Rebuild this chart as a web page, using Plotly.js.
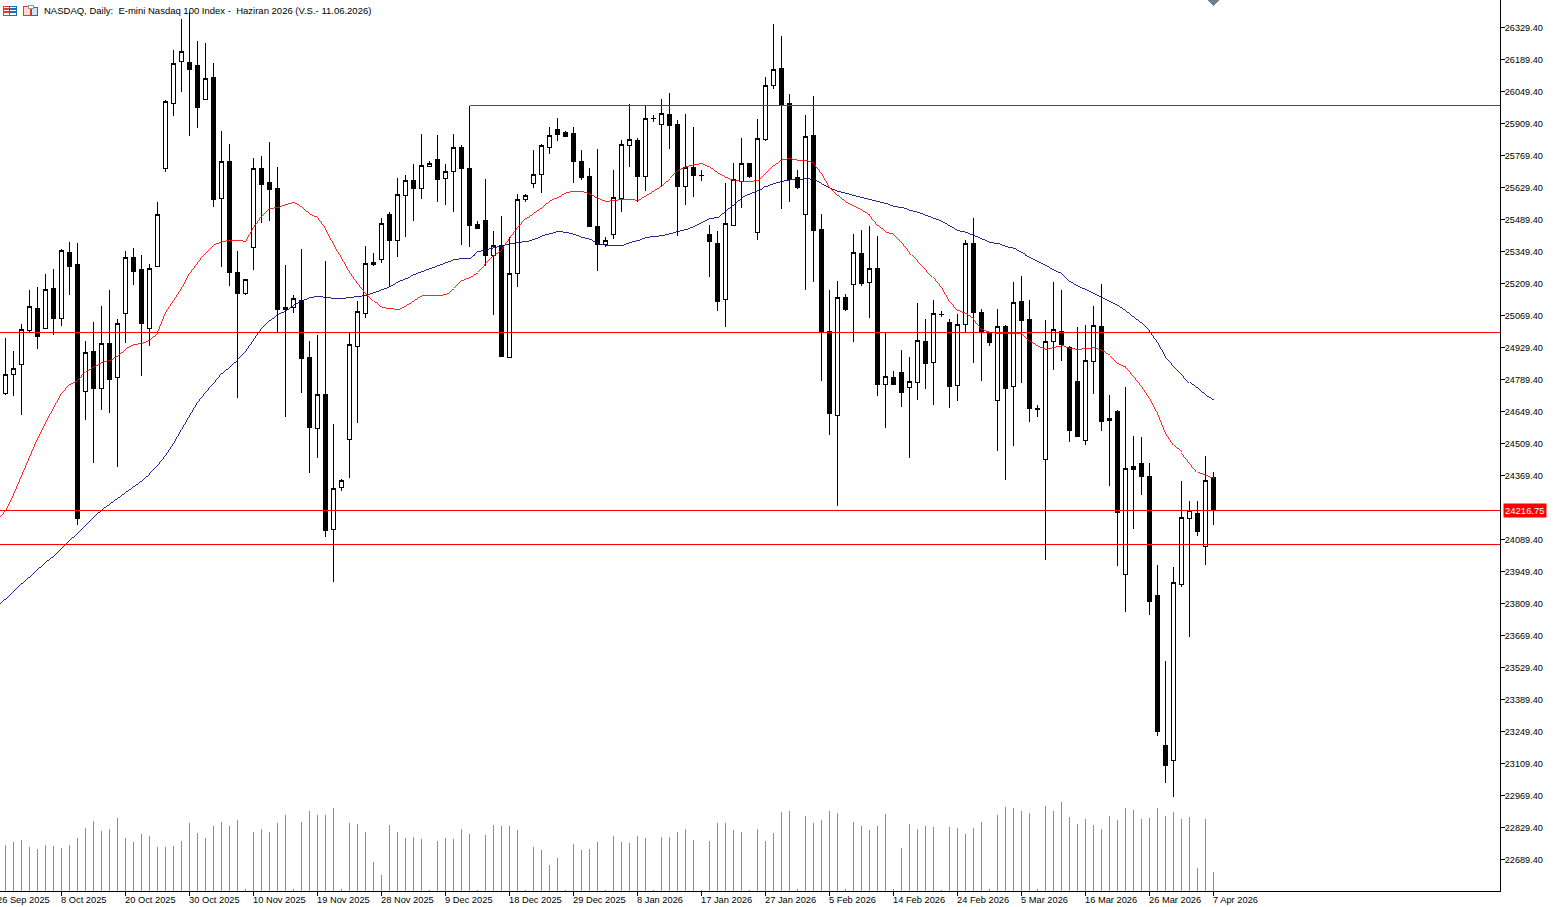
<!DOCTYPE html>
<html>
<head>
<meta charset="utf-8">
<script src="https://cdn.plot.ly/plotly-3.0.1.min.js"></script>
<style>
  html, body { margin: 0; padding: 0; background: #fff; overflow: hidden; }
  /* terminal look: no anti-aliasing on the marks */
  #plot svg path { shape-rendering: crispEdges !important; }
</style>
</head>
<body>
<div id="plot" style="width:1557px;height:907px"></div>
<script>
var open = [
  24729,24813,24854,25005,25099,25014,25186,25055,25344,25291,
  24736,24911,24751,24946,24799,25077,25322,25269,25011,25285,
  25711,25996,26179,26176,26162,26016,26109,25580,25742,25256,
  25164,25366,25713,25651,25625,25094,25103,25135,24884,24577,
  24722,24132,24316,24526,24935,25079,25301,25316,25511,25399,
  25596,25659,25626,25723,25752,25670,25701,25803,25713,25466,
  25485,25333,25374,24887,25252,25578,25648,25688,25806,25882,
  25870,25866,25743,25678,25459,25380,25425,25583,25812,25835,
  25679,25930,25906,25949,25905,25635,25716,25682,25424,25383,
  25141,25464,25657,25733,25431,25841,26074,26149,25996,25672,
  25510,25856,25444,24998,24633,25147,25204,25341,25215,25274,
  24766,24797,24819,24753,24775,24954,24862,25074,25037,24762,
  25029,25383,25081,24996,24696,25020,24757,25131,25051,24660,
  24438,24954,24998,24928,24781,24524,24867,25020,24619,24648,
  23935,24409,24422,24365,23844,23187,23124,23891,24180,24203,
  24057,24359
];
var high = [
  24972,24912,25033,25179,25196,25253,25274,25361,25392,25387,
  24959,25042,25113,25179,25052,25352,25366,25335,25296,25567,
  26014,26232,26367,26396,26271,26262,26175,25877,25821,25352,
  25227,25759,25769,25829,25720,25291,25161,25362,24960,24986,
  25310,24596,24355,24992,25134,25374,25341,25497,25523,25669,
  25686,25734,25864,25744,25861,25734,25864,25814,25987,25481,
  25667,25441,25506,25411,25599,25599,25794,25821,25892,25934,
  25876,25892,25794,25716,25800,25414,25708,25838,25996,25847,
  25985,25946,26017,26044,25926,25952,25892,25704,25466,25438,
  25650,25737,25844,25737,25930,26115,26346,26294,26039,25704,
  25947,26028,25514,25179,25221,25164,25427,25444,25463,25419,
  24992,24827,24919,24890,25125,25052,25138,25087,25055,25077,
  25398,25494,25099,24996,25099,25030,25218,25243,25138,24680,
  25051,25218,25179,24938,25017,25030,25112,25208,24722,24657,
  24757,24543,24540,24422,23976,23560,23971,24346,24260,24256,
  24453,24383
];
var low = [
  24721,24719,24632,24996,24921,25011,24982,25023,25157,24151,
  24614,24423,24658,24642,24406,24951,25201,24804,24935,25281,
  25696,25941,26046,25854,25889,26011,25543,25281,25198,24709,
  25158,25268,25476,25485,24999,24624,25079,24729,24379,24445,
  24099,23903,24301,24359,24598,25058,25285,25298,25193,25324,
  25415,25485,25577,25723,25564,25555,25524,25380,25367,25450,
  25285,25071,24887,24887,25193,25565,25626,25604,25774,25832,
  25849,25648,25664,25460,25262,25371,25403,25524,25721,25565,
  25616,25918,25631,25800,25419,25551,25590,25660,25237,25091,
  25021,25464,25539,25670,25398,25832,26059,25534,25565,25622,
  25181,25215,24782,24546,24238,25088,24953,25198,25058,24719,
  24576,24769,24668,24445,24699,24747,24677,25061,24664,24694,
  24994,24861,24782,24938,24476,24349,24498,24773,24603,24624,
  24001,24830,24872,24515,24541,24502,24725,24563,24323,23973,
  23771,24134,24282,23758,23229,23023,22962,23881,23662,24104,
  23977,24152
];
var close = [
  24810,24836,25007,25107,24979,25182,25055,25352,25285,24183,
  24906,24751,24946,24791,25033,25322,25263,25036,25274,25510,
  26004,26171,26223,26144,25981,26105,25578,25742,25259,25167,
  25226,25711,25644,25621,25096,25103,25142,24883,24581,24722,
  24129,24311,24346,24941,25086,25296,25294,25471,25398,25597,
  25659,25626,25724,25733,25664,25698,25803,25714,25463,25450,
  25333,25374,24890,25252,25576,25593,25685,25812,25856,25861,
  25854,25744,25673,25460,25381,25396,25584,25816,25838,25679,
  25930,25931,25952,25901,25635,25716,25683,25681,25394,25132,
  25471,25663,25733,25676,25842,26074,26144,25988,25663,25631,
  25851,25443,24996,24642,25147,25097,25344,25211,25274,24769,
  24801,24769,24734,24779,24959,24861,25077,25072,24760,25031,
  25383,25084,24994,24951,25023,24751,25125,25049,24664,24661,
  24954,25007,24941,24568,24541,24871,25024,24607,24611,24209,
  24399,24396,24366,23819,23251,23102,23900,24184,24215,24126,
  24346,24217
];
// tick volume, arbitrary units
var volume = [
  139,148,154,133,127,139,136,130,139,160,
  190,211,181,187,220,160,148,172,166,133,
  133,136,151,205,175,160,196,208,196,214,
  7,178,187,178,205,229,7,208,241,229,
  229,250,7,205,202,178,88,49,199,178,
  160,163,157,4,151,160,157,187,172,4,
  169,199,196,196,184,4,133,124,79,100,
  4,142,124,127,148,4,166,148,145,166,
  160,4,163,163,178,187,154,4,151,205,
  205,184,178,4,187,151,175,238,241,7,
  226,205,214,241,235,7,208,196,184,196,
  232,7,130,202,187,196,193,4,193,190,
  172,190,208,7,229,253,250,241,235,7,
  256,241,268,223,202,217,199,187,226,214,
  250,244,217,220,250,226,238,217,223,70,
  217,58
];
// moving averages start one bar before the first candle, they run off the left edge
var maFast = [
  24173,24216,24286,24365,24448,24531,24601,24663,24728,24768,
  24785,24824,24846,24864,24873,24894,24925,24943,24947,24964,
  24995,25083,25135,25188,25253,25297,25345,25380,25393,25398,
  25398,25393,25454,25503,25538,25542,25555,25564,25542,25511,
  25498,25450,25384,25319,25258,25209,25166,25131,25104,25100,
  25095,25113,25135,25157,25157,25157,25161,25188,25223,25236,
  25258,25297,25332,25358,25406,25454,25494,25520,25542,25573,
  25586,25608,25612,25612,25599,25581,25568,25573,25577,25577,
  25573,25594,25616,25638,25669,25704,25721,25730,25734,25717,
  25691,25673,25660,25656,25656,25660,25691,25726,25752,25756,
  25748,25748,25734,25691,25629,25594,25564,25546,25529,25507,
  25463,25433,25424,25389,25345,25310,25275,25236,25192,25131,
  25091,25078,25052,25008,24995,24991,24991,24991,24991,24956,
  24934,24921,24929,24938,24925,24921,24925,24929,24916,24894,
  24859,24842,24803,24759,24706,24641,24553,24501,24470,24426,
  24383,24369,24356
];
var maSlow = [
  23796,23827,23862,23897,23928,23963,23993,24019,24054,24085,
  24124,24155,24190,24221,24247,24273,24299,24321,24348,24378,
  24413,24457,24509,24571,24628,24689,24733,24772,24816,24846,
  24877,24912,24960,25013,25048,25074,25091,25117,25135,25148,
  25153,25148,25144,25144,25148,25153,25157,25170,25183,25196,
  25218,25231,25249,25262,25275,25288,25301,25314,25319,25319,
  25349,25358,25367,25376,25384,25389,25393,25402,25419,25428,
  25437,25433,25424,25411,25402,25384,25376,25376,25376,25389,
  25398,25411,25415,25419,25428,25437,25446,25459,25476,25494,
  25498,25529,25555,25586,25603,25616,25634,25647,25656,25664,
  25664,25669,25664,25643,25625,25612,25603,25594,25586,25577,
  25568,25559,25546,25542,25529,25520,25507,25494,25481,25459,
  25441,25433,25419,25402,25389,25384,25371,25363,25345,25323,
  25305,25288,25266,25253,25218,25196,25183,25166,25148,25131,
  25113,25087,25061,25034,25000,24951,24890,24851,24816,24776,
  24750,24719,24698
];
// 24229.40 is hidden behind the last price tag, as in the terminal
var priceTicks = [
  22689.4,22829.4,22969.4,23109.4,23249.4,23389.4,23529.4,23669.4,23809.4,23949.4,24089.4,
  24369.4,24509.4,24649.4,24789.4,24929.4,25069.4,25209.4,25349.4,25489.4,25629.4,25769.4,
  25909.4,26049.4,26189.4,26329.4
];
var dateBars = [-1,7,15,23,31,39,47,55,63,71,79,87,95,103,111,119,127,135,143,151];
var dateLabels = [
  '26 Sep 2025','8 Oct 2025','20 Oct 2025','30 Oct 2025','10 Nov 2025','19 Nov 2025',
  '28 Nov 2025','9 Dec 2025','18 Dec 2025','29 Dec 2025','8 Jan 2026','17 Jan 2026',
  '27 Jan 2026','5 Feb 2026','14 Feb 2026','24 Feb 2026','5 Mar 2026','16 Mar 2026',
  '26 Mar 2026','7 Apr 2026'
];
var levels = [24993.5, 24216.75, 24066];
var trendLevel = 25987;
var trendStartBar = 58;
var lastPrice = '24216.75';
var chartTitle = 'NASDAQ, Daily:  E-mini Nasdaq 100 Index -  Haziran 2026 (V.S.- 11.06.2026)';

var W = 1557, H = 907, plotW = 1500, plotH = 891;
var xMin = -0.6875, xMax = 186.8125;
var bars = close.map(function (_, i) { return i; });
var maBars = maFast.map(function (_, i) { return i - 1; });
var fontFam = '"Liberation Sans", Arial, sans-serif';

function fx(px) { return px / plotW; }
function fy(py) { return 1 - py / plotH; }
function rect(x0, y0, x1, y1, line, fill) {
  return { type: 'rect', xref: 'paper', yref: 'paper', x0: fx(x0), x1: fx(x1), y0: fy(y0), y1: fy(y1),
    line: { color: line, width: 1 }, fillcolor: fill };
}

var traces = [
  {
    type: 'bar', x: bars, y: volume, yaxis: 'y2', width: 0.125,
    marker: { color: '#32CD32', line: { width: 0 } }, hoverinfo: 'skip'
  },
  {
    type: 'candlestick', x: bars, open: open, high: high, low: low, close: close,
    whiskerwidth: 0, hoverinfo: 'skip',
    increasing: { line: { color: '#000', width: 1 }, fillcolor: '#fff' },
    decreasing: { line: { color: '#000', width: 1 }, fillcolor: '#000' }
  },
  { type: 'scatter', mode: 'lines', x: maBars, y: maSlow, line: { color: '#000080', width: 0.85 }, hoverinfo: 'skip' },
  { type: 'scatter', mode: 'lines', x: maBars, y: maFast, line: { color: '#FF0000', width: 0.85 }, hoverinfo: 'skip' }
];

var shapes = levels.map(function (v) {
  return { type: 'line', xref: 'paper', yref: 'y', x0: 0, x1: 1, y0: v, y1: v, line: { color: '#FF0000', width: 1 } };
});
shapes.push({ type: 'line', xref: 'x', yref: 'y', x0: trendStartBar, x1: xMax, y0: trendLevel, y1: trendLevel,
  line: { color: '#FF0000', width: 1 } });

// toolbar icons top left
shapes.push(rect(3, 6, 9, 15, '#E03C31', '#fff'));
shapes.push(rect(9, 6, 16, 15, '#1B6FB5', '#fff'));
shapes.push(rect(10, 8.5, 15, 9.5, '#1B6FB5', '#1B6FB5'));
shapes.push(rect(10, 11.5, 15, 12.5, '#1B6FB5', '#1B6FB5'));
shapes.push(rect(4, 8.5, 8, 9.5, '#E03C31', '#E03C31'));
shapes.push(rect(4, 11.5, 8, 12.5, '#E03C31', '#E03C31'));
shapes.push(rect(23.5, 6, 30, 15.5, '#E03C31', '#FBDCD2'));
shapes.push(rect(31, 7, 37.5, 15.5, '#1B6FB5', '#CFE6F7'));
shapes.push(rect(28, 5, 33, 8, '#999', '#fff'));

// chart shift marker at the top edge
var shiftX = (151 - xMin) / (xMax - xMin);
shapes.push({ type: 'path', xref: 'paper', yref: 'paper', fillcolor: '#6E7F90', line: { width: 0 },
  path: 'M ' + (shiftX - fx(6)) + ' 1 L ' + (shiftX + fx(6)) + ' 1 L ' + shiftX + ' ' + fy(6) + ' Z' });

var annotations = dateBars.map(function (b, i) {
  return {
    xref: 'paper', yref: 'paper', x: (b - xMin) / (xMax - xMin), y: 0, yshift: -3, xshift: -2,
    xanchor: 'left', yanchor: 'top', showarrow: false, text: dateLabels[i], borderpad: 0,
    font: { family: fontFam, size: 9.3, color: '#000' }
  };
});
annotations.push({
  xref: 'paper', yref: 'paper', x: fx(43), y: fy(4), xanchor: 'left', yanchor: 'top', showarrow: false,
  text: chartTitle, borderpad: 0, font: { family: fontFam, size: 9.5, color: '#000' }
});
annotations.push({
  xref: 'paper', yref: 'y', x: fx(1503), y: levels[1], xanchor: 'left', yanchor: 'middle', showarrow: false,
  text: lastPrice, bgcolor: '#FF0000', borderpad: 1, font: { family: fontFam, size: 9.5, color: '#fff' }
});

var layout = {
  width: W, height: H,
  margin: { l: 0, r: W - plotW, t: 0, b: H - plotH, pad: 0 },
  paper_bgcolor: '#fff', plot_bgcolor: '#fff', showlegend: false, barmode: 'overlay',
  boxgap: 0.5, boxgroupgap: 0,
  font: { family: fontFam, size: 9.5, color: '#000' },
  xaxis: {
    range: [xMin, xMax], showgrid: false, zeroline: false, showline: true, linecolor: '#000', linewidth: 1,
    tickmode: 'array', tickvals: dateBars.slice(1), ticks: 'outside', ticklen: 4, tickwidth: 1, tickcolor: '#000',
    showticklabels: false, rangeslider: { visible: false }, fixedrange: true
  },
  yaxis: {
    range: [22551.6, 26449.7], side: 'right', showgrid: false, zeroline: false, showline: true,
    linecolor: '#000', linewidth: 1, tickmode: 'array', tickvals: priceTicks,
    ticktext: priceTicks.map(function (v) { return v.toFixed(2); }),
    ticks: 'outside', ticklen: 4, tickwidth: 1, tickcolor: '#000', fixedrange: true, automargin: false,
    ticklabelstandoff: -2, tickfont: { family: fontFam, size: 9.1, color: '#000' }
  },
  yaxis2: { overlaying: 'y', range: [0, 2673], visible: false, fixedrange: true },
  shapes: shapes,
  annotations: annotations
};

Plotly.newPlot('plot', traces, layout, { displayModeBar: false, staticPlot: true });
</script>
</body>
</html>
